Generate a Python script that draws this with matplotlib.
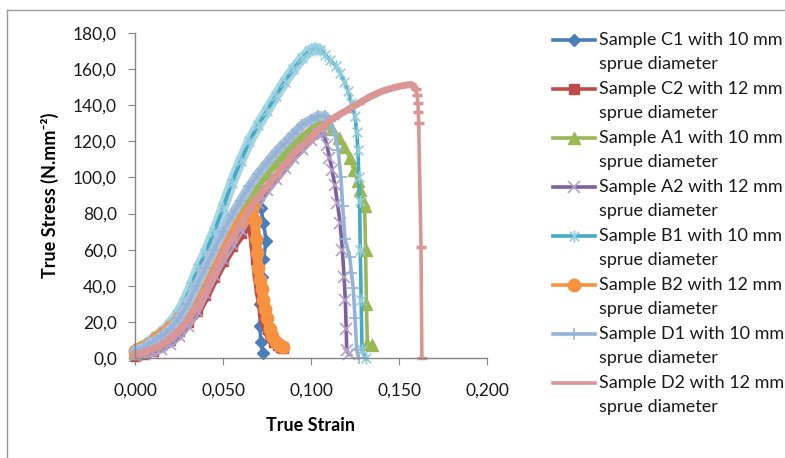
import matplotlib
matplotlib.use("Agg")
import matplotlib.pyplot as plt
from matplotlib.path import Path
from matplotlib.lines import Line2D

plt.rcParams['font.family'] = ['Lato', 'DejaVu Sans']

# ---------------- data ----------------
c1_strain = [0, 0.005, 0.010, 0.015, 0.020, 0.025, 0.030, 0.035, 0.040, 0.045, 0.050, 0.055,
             0.060, 0.065, 0.068, 0.070, 0.0715, 0.073, 0.0745, 0.073, 0.072, 0.0712, 0.071, 0.0715, 0.0727]
c1_stress = [5, 7, 10, 13, 17, 22, 30, 40, 50, 60, 68, 75,
             80, 84, 86, 87.5, 83, 75, 65, 55, 45, 30, 18, 9, 2.5]

c2_strain = [0, 0.005, 0.010, 0.015, 0.020, 0.025, 0.030, 0.035, 0.040, 0.045, 0.050, 0.055,
             0.060, 0.064, 0.066, 0.067, 0.068, 0.069, 0.070, 0.071, 0.072, 0.073, 0.074,
             0.0755, 0.077, 0.079, 0.081, 0.083, 0.084]
c2_stress = [1, 2, 4, 7, 10, 15, 20, 26, 35, 45, 54, 62,
             69, 75, 78, 72, 64, 55, 46, 38, 32, 26, 21,
             16, 12, 9, 7, 6, 5.5]

a1_strain = [0, 0.005, 0.010, 0.015, 0.020, 0.025, 0.030, 0.035, 0.040, 0.045, 0.050, 0.055,
             0.060, 0.065, 0.070, 0.075, 0.080, 0.085, 0.090, 0.095, 0.100, 0.105,
             0.108, 0.112, 0.116, 0.119, 0.122, 0.1245, 0.1265, 0.128, 0.1295, 0.1305,
             0.131, 0.1315, 0.132, 0.1347]
a1_stress = [3, 5, 8, 11, 15, 21, 29, 38, 48, 58, 67, 75,
             82, 89, 96, 102, 108, 113, 118, 122, 126, 130,
             130, 127, 122, 117, 111, 104, 98, 93, 87, 84,
             60, 30, 8, 7]

a2_strain = [0, 0.005, 0.010, 0.015, 0.020, 0.025, 0.030, 0.035, 0.040, 0.045, 0.050, 0.055,
             0.060, 0.065, 0.070, 0.075, 0.080, 0.085, 0.090, 0.095, 0.100, 0.104,
             0.107, 0.109, 0.1105, 0.112, 0.1135, 0.115, 0.1165, 0.1178, 0.1188, 0.1195,
             0.1200, 0.1203, 0.1215]
a2_stress = [1, 2, 3, 5, 8, 12, 18, 26, 36, 46, 55, 63,
             71, 79, 86, 93, 99, 105, 111, 116, 121, 124.5,
             124, 118, 111, 104, 96, 86, 75, 60, 45, 32,
             16, 4.4, 2]

b1_strain = [0, 0.004, 0.008, 0.012, 0.016, 0.020, 0.024, 0.028, 0.032, 0.036, 0.040, 0.045,
             0.050, 0.055, 0.060, 0.065, 0.070, 0.075, 0.080, 0.085, 0.090, 0.095, 0.099,
             0.102, 0.105, 0.108, 0.1108, 0.114, 0.1165, 0.119, 0.121, 0.123, 0.125, 0.126,
             0.1267, 0.1272, 0.1276, 0.128, 0.1285, 0.129, 0.131]
b1_stress = [4, 6, 9, 12, 15, 19, 24, 31, 40, 50, 58, 70,
             83, 97, 109, 120, 129, 137, 145, 153, 160, 166, 170,
             171.5, 170.5, 168, 165, 162, 158, 153, 148, 141, 134, 125,
             115, 100, 87, 60, 32, 4.4, 0]

b2_strain = [0, 0.004, 0.008, 0.012, 0.016, 0.020, 0.025, 0.030, 0.035, 0.040, 0.045, 0.050,
             0.055, 0.060, 0.064, 0.067, 0.068, 0.069, 0.0695, 0.070, 0.071, 0.072, 0.073,
             0.074, 0.075, 0.0765, 0.078, 0.080, 0.082, 0.084]
b2_stress = [4, 6, 8, 11, 14, 17, 22, 29, 38, 48, 56, 63,
             70, 76, 81, 84, 76, 66, 58, 50, 43, 38, 32,
             27, 22, 16, 12, 9, 7, 6]

d1_strain = [0, 0.005, 0.010, 0.015, 0.020, 0.025, 0.030, 0.035, 0.040, 0.045, 0.050, 0.055,
             0.060, 0.065, 0.070, 0.075, 0.080, 0.085, 0.090, 0.095, 0.100, 0.104,
             0.108, 0.111, 0.1135, 0.1155, 0.117, 0.118, 0.1193, 0.122, 0.123, 0.124, 0.125,
             0.126, 0.127]
d1_stress = [4, 6, 9, 12, 16, 22, 30, 40, 50, 60, 70, 79,
             87, 95, 102, 108, 114, 119, 124, 129, 132, 134,
             134, 131, 124, 115, 100, 84, 66, 56, 47, 39, 22,
             4.4, 0]

d2_strain = [0, 0.005, 0.010, 0.015, 0.020, 0.025, 0.030, 0.035, 0.040, 0.045, 0.050, 0.055,
             0.060, 0.065, 0.070, 0.075, 0.080, 0.086, 0.092, 0.099, 0.106, 0.113, 0.120,
             0.127, 0.134, 0.141, 0.148, 0.153, 0.157, 0.1595, 0.1603, 0.1607, 0.161, 0.1612,
             0.1625, 0.163]
d2_stress = [2, 3, 5, 7, 11, 15, 21, 28, 37, 47, 57, 66,
             74, 82, 89, 95, 101, 108, 115, 121, 128, 133, 137,
             141, 145, 148, 150, 151, 151.5, 149, 145.6, 141, 136, 130,
             61.6, 0]

labels = ["Sample C1 with 10 mm\nsprue diameter",
          "Sample C2 with 12 mm\nsprue diameter",
          "Sample A1 with 10 mm\nsprue diameter",
          "Sample A2 with 12 mm\nsprue diameter",
          "Sample B1 with 10 mm\nsprue diameter",
          "Sample B2 with 12 mm\nsprue diameter",
          "Sample D1 with 10 mm\nsprue diameter",
          "Sample D2 with 12 mm\nsprue diameter"]

x_ticks = [0.0, 0.05, 0.10, 0.15, 0.20]
x_ticklabels = ["0,000", "0,050", "0,100", "0,150", "0,200"]
y_ticks = [0, 20, 40, 60, 80, 100, 120, 140, 160, 180]
y_ticklabels = ["0,0", "20,0", "40,0", "60,0", "80,0", "100,0", "120,0", "140,0", "160,0", "180,0"]

# ---------------- styles ----------------
asterisk = Path([(-1, -1), (1, 1), (-1, 1), (1, -1), (0, -1.3), (0, 1.3)],
                [Path.MOVETO, Path.LINETO, Path.MOVETO, Path.LINETO, Path.MOVETO, Path.LINETO])

# (x, y, line style, band colour, band width, number of leading points that are densely marked)
series = [
    (c1_strain, c1_stress, dict(color='#4A7EBB', marker='D', ms=6, mfc='#4A7EBB', mec='#4A7EBB'),
     '#4A7EBB', 5, 16),
    (c2_strain, c2_stress, dict(color='#BE4B48', marker='s', ms=7, mfc='#BE4B48', mec='#BE4B48'),
     '#BE4B48', 8, len(c2_strain)),
    (a1_strain, a1_stress, dict(color='#98B954', marker='^', ms=8, mfc='#98B954', mec='#98B954'),
     '#98B954', 6, 23),
    (a2_strain, a2_stress, dict(color='#7D60A0', marker='x', ms=8, mfc='none', mec='#B3A2C7', mew=1.2),
     '#B3A2C7', 6, 23),
    (b1_strain, b1_stress, dict(color='#46AAC5', marker=asterisk, ms=9, mfc='none', mec='#93CDDD', mew=1.2),
     '#A8D6E3', 8, 25),
    (b2_strain, b2_stress, dict(color='#F69240', marker='o', ms=9, mfc='#F69240', mec='#F69240'),
     '#F69240', 7, len(b2_strain)),
    (d1_strain, d1_stress, dict(color='#95B3D7', marker='+', ms=9, mfc='none', mec='#95B3D7', mew=1.2),
     '#A9C1DF', 7, 23),
    (d2_strain, d2_stress, dict(color='#D99694', marker='_', ms=7, mfc='none', mec='#D99694', mew=2.5),
     '#D99694', 5, 30),
]

W, H = 785, 458
fig = plt.figure(figsize=(W / 100, H / 100), dpi=100)
ax = fig.add_axes([135 / W, 1 - 358 / H, (487 - 135) / W, (358 - 33) / H])

for xs, ys, st, bc, bw, nb in series:
    # dense overlapping markers of the original form a solid band
    ax.plot(xs[:nb], ys[:nb], lw=bw, color=bc, solid_capstyle='round', solid_joinstyle='round',
            clip_on=False)
    ax.plot(xs, ys, lw=2.6, clip_on=False, **st)

ax.set_xlim(0, 0.2)
ax.set_ylim(0, 180)
ax.set_xticks(x_ticks)
ax.set_xticklabels(x_ticklabels)
ax.set_yticks(y_ticks)
ax.set_yticklabels(y_ticklabels)
for s in ['top', 'right']:
    ax.spines[s].set_visible(False)
for s in ['left', 'bottom']:
    ax.spines[s].set_color('#868686')
    ax.spines[s].set_linewidth(1.0)
ax.tick_params(axis='x', direction='out', length=5, color='#868686', labelsize=12.5, pad=13, labelcolor='#1a1a1a')
ax.tick_params(axis='y', direction='out', length=5, color='#868686', labelsize=12.5, pad=8, labelcolor='#1a1a1a')

ax.set_xlabel("True Strain", fontsize=13, fontweight='bold', labelpad=13)
ax.set_ylabel("True Stress (N.mm\u207b\u00b2)", fontsize=13, fontweight='bold', labelpad=10)

# outer chart border (left and top edges visible)
fig.add_artist(Line2D([7 / W, 7 / W], [0, 1 - 10 / H], transform=fig.transFigure, color='#9a9a9a', lw=1))
fig.add_artist(Line2D([7 / W, 1], [1 - 10 / H, 1 - 10 / H], transform=fig.transFigure, color='#9a9a9a', lw=1))

# legend drawn manually so that the handle sits on the first text line
y0 = 40
pitch = 49
for i, (xs, ys, st, bc, bw, nb) in enumerate(series):
    yy = 1 - (y0 + i * pitch) / H
    fig.add_artist(Line2D([553 / W, 595 / W], [yy, yy], transform=fig.transFigure,
                          color=st['color'], lw=2.6))
    if st['marker'] != '_':
        mk = {k: v for k, v in st.items() if k != 'color'}
        fig.add_artist(Line2D([574 / W], [yy], transform=fig.transFigure, ls='none', **mk))
    l1, l2 = labels[i].split('\n')
    fig.text(599 / W, yy, l1, fontsize=13, va='center', ha='left', color='#1a1a1a')
    fig.text(599 / W, yy - 24 / H, l2, fontsize=13, va='center', ha='left', color='#1a1a1a')

fig.savefig("out.png", dpi=100)
